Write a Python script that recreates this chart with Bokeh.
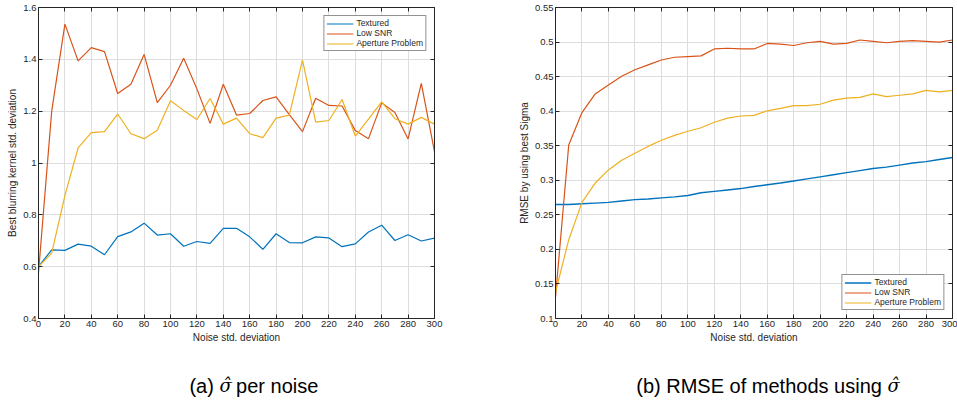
from bokeh.plotting import figure
from bokeh.layouts import column, row
from bokeh.models import (LinearAxis, FixedTicker, CustomJSTickFormatter, Range1d,
                          ColumnDataSource)
from bokeh.core.properties import value
from bokeh.embed import file_html
from bokeh.resources import INLINE

# ---- data -------------------------------------------------------------
noise = [0, 10, 20, 30, 40, 50, 60, 70, 80, 90, 100, 110, 120, 130, 140, 150,
         160, 170, 180, 190, 200, 210, 220, 230, 240, 250, 260, 270, 280, 290, 300]

# (a) best blurring-kernel std. deviation per noise level
sigma_textured = [0.600, 0.665, 0.663, 0.687, 0.679, 0.646, 0.716, 0.734, 0.768, 0.722,
                  0.727, 0.679, 0.697, 0.690, 0.748, 0.748, 0.715, 0.667, 0.727, 0.693,
                  0.692, 0.715, 0.711, 0.677, 0.688, 0.734, 0.760, 0.701, 0.723, 0.699, 0.710]
sigma_low_snr = [0.577, 1.200, 1.536, 1.394, 1.445, 1.430, 1.268, 1.304, 1.419, 1.233,
                 1.300, 1.404, 1.286, 1.153, 1.304, 1.185, 1.191, 1.241, 1.255, 1.187,
                 1.121, 1.250, 1.222, 1.220, 1.125, 1.094, 1.232, 1.195, 1.093, 1.307, 1.044]
sigma_aperture = [0.600, 0.652, 0.874, 1.058, 1.117, 1.121, 1.189, 1.113, 1.094, 1.126,
                  1.240, 1.203, 1.168, 1.249, 1.150, 1.173, 1.113, 1.098, 1.173, 1.185,
                  1.397, 1.158, 1.164, 1.245, 1.104, 1.169, 1.236, 1.171, 1.150, 1.176, 1.150]

# (b) RMSE obtained with the best sigma
rmse_textured = [0.265, 0.265, 0.266, 0.267, 0.268, 0.270, 0.272, 0.273, 0.2745, 0.276,
                 0.278, 0.282, 0.284, 0.286, 0.288, 0.291, 0.2935, 0.296, 0.299, 0.302,
                 0.305, 0.308, 0.311, 0.314, 0.317, 0.319, 0.322, 0.325, 0.327, 0.330, 0.333]
rmse_low_snr = [0.131, 0.351, 0.398, 0.425, 0.438, 0.4505, 0.460, 0.467, 0.474, 0.478,
                0.479, 0.480, 0.490, 0.491, 0.490, 0.490, 0.498, 0.497, 0.495, 0.499,
                0.501, 0.497, 0.498, 0.503, 0.501, 0.499, 0.501, 0.502, 0.501, 0.500, 0.503]
rmse_aperture = [0.138, 0.214, 0.268, 0.296, 0.315, 0.329, 0.339, 0.349, 0.358, 0.365,
                 0.371, 0.376, 0.384, 0.390, 0.393, 0.394, 0.4005, 0.404, 0.408, 0.408,
                 0.410, 0.416, 0.419, 0.420, 0.425, 0.421, 0.423, 0.425, 0.430, 0.428, 0.430]

series_names = ["Textured", "Low SNR", "Aperture Problem"]

x_ticks = [0, 20, 40, 60, 80, 100, 120, 140, 160, 180, 200, 220, 240, 260, 280, 300]
x_tick_labels = [str(t) for t in x_ticks]
ya_ticks = [0.4, 0.6, 0.8, 1.0, 1.2, 1.4, 1.6]
ya_tick_labels = ["0.4", "0.6", "0.8", "1", "1.2", "1.4", "1.6"]
yb_ticks = [0.1, 0.15, 0.2, 0.25, 0.3, 0.35, 0.4, 0.45, 0.5, 0.55]
yb_tick_labels = ["0.1", "0.15", "0.2", "0.25", "0.3", "0.35", "0.4", "0.45", "0.5", "0.55"]

x_label = "Noise std. deviation"
ya_label = "Best blurring kernel std. deviation"
yb_label = "RMSE by using best Sigma"

# ---- style --------------------------------------------------------------
FONT = "Liberation Sans"
INK = "#262626"
GRID = "#dedede"
COLORS = ["#0072BD", "#D95319", "#EDB120"]


def label_formatter(tick_values, tick_texts):
    return CustomJSTickFormatter(
        args=dict(tvals=tick_values, ttexts=tick_texts),
        code="const i = tvals.findIndex(t => Math.abs(t - tick) < 1e-6);"
             "return i >= 0 ? ttexts[i] : '';")


def style_axis(ax, tick_values, tick_texts, show_labels):
    ax.ticker = FixedTicker(ticks=tick_values)
    ax.axis_line_color = INK
    ax.axis_line_width = 1
    ax.major_tick_line_color = INK
    ax.major_tick_in = 4
    ax.major_tick_out = 0
    ax.minor_tick_line_color = None
    if show_labels:
        ax.formatter = label_formatter(tick_values, tick_texts)
        ax.major_label_text_font = FONT
        ax.major_label_text_font_size = "9.5px"
        ax.major_label_text_color = INK
        ax.major_label_standoff = 2
        ax.axis_label_text_font = FONT
        ax.axis_label_text_font_size = "10px"
        ax.axis_label_text_font_style = "normal"
        ax.axis_label_text_color = INK
        ax.axis_label_standoff = 2
    else:
        # mirror axis of the box: ticks only, no labels painted
        ax.major_label_text_color = None
        ax.major_label_text_font_size = "1px"
        ax.major_label_standoff = 0


def panel(width, height, y_range, y_ticks, y_labels, y_title, series, widths,
          border, legend_loc):
    left, right, top, bottom = border
    p = figure(width=width, height=height, x_range=Range1d(0, 300), y_range=y_range,
               output_backend="svg", toolbar_location=None,
               min_border_left=left, min_border_right=right,
               min_border_top=top, min_border_bottom=bottom,
               background_fill_color="white", border_fill_color="white")
    p.outline_line_color = None

    style_axis(p.xaxis[0], x_ticks, x_tick_labels, True)
    style_axis(p.yaxis[0], y_ticks, y_labels, True)
    p.xaxis[0].axis_label = x_label
    p.yaxis[0].axis_label = y_title

    top_axis = LinearAxis()
    right_axis = LinearAxis()
    style_axis(top_axis, x_ticks, x_tick_labels, False)
    style_axis(right_axis, y_ticks, y_labels, False)
    p.add_layout(top_axis, "above")
    p.add_layout(right_axis, "right")

    p.xgrid.ticker = FixedTicker(ticks=x_ticks)
    p.ygrid.ticker = FixedTicker(ticks=y_ticks)
    p.xgrid.grid_line_color = GRID
    p.ygrid.grid_line_color = GRID

    for name, ys, color, lw in zip(series_names, series, COLORS, widths):
        src = ColumnDataSource(dict(x=noise, y=ys))
        p.line("x", "y", source=src, line_color=color, line_width=lw, legend_label=name)

    lg = p.legend[0]
    lg.location = legend_loc
    lg.margin = 8
    lg.padding = 2
    lg.spacing = 0
    lg.label_height = 9
    lg.glyph_height = 9
    lg.glyph_width = 27
    lg.label_standoff = 3
    lg.label_text_font = FONT
    lg.label_text_font_size = "8.5px"
    lg.label_text_color = INK
    lg.border_line_color = INK
    lg.border_line_width = 1
    lg.background_fill_color = "white"
    lg.background_fill_alpha = 1
    return p


fig_a = panel(480, 345, Range1d(0.4, 1.6), ya_ticks, ya_tick_labels, ya_label,
              [sigma_textured, sigma_low_snr, sigma_aperture], [1.2, 1.2, 1.2],
              (38, 46, 7, 25), "top_right")
fig_b = panel(477, 345, Range1d(0.1, 0.55), yb_ticks, yb_tick_labels, yb_label,
              [rmse_textured, rmse_low_snr, rmse_aperture], [1.4, 1.2, 1.2],
              (75, 5, 7, 25), "bottom_right")


def caption(width, before, sigma_left, after):
    c = figure(width=width, height=67, x_range=Range1d(0, width), y_range=Range1d(0, 67),
               output_backend="svg", toolbar_location=None, min_border=0,
               x_axis_type=None, y_axis_type=None, outline_line_color=None,
               background_fill_color="white", border_fill_color="white")
    c.xgrid.visible = False
    c.ygrid.visible = False
    size = "20px"
    gap = 5.6
    sig_w = 11
    base = 27
    if before:
        c.text(x=[sigma_left - gap], y=[base], text=[before], text_align="right",
               text_baseline="alphabetic", text_font=value(FONT), text_font_size=size,
               text_color="black")
    c.text(x=[sigma_left], y=[base], text=["\u03c3\u0302"], text_align="left",
           text_baseline="alphabetic", text_font=value("DejaVu Serif"),
           text_font_style="italic", text_font_size="18px", text_color="black")
    if after:
        c.text(x=[sigma_left + sig_w + gap], y=[base], text=[after], text_align="left",
               text_baseline="alphabetic", text_font=value(FONT), text_font_size=size,
               text_color="black")
    return c


cap_a = caption(480, "(a)", 219, "per noise")
cap_b = caption(477, "(b) RMSE of methods using", 407, "")

layout = column(row(fig_a, fig_b), row(cap_a, cap_b))

with open("out.html", "w") as f:
    f.write(file_html(layout, INLINE))
